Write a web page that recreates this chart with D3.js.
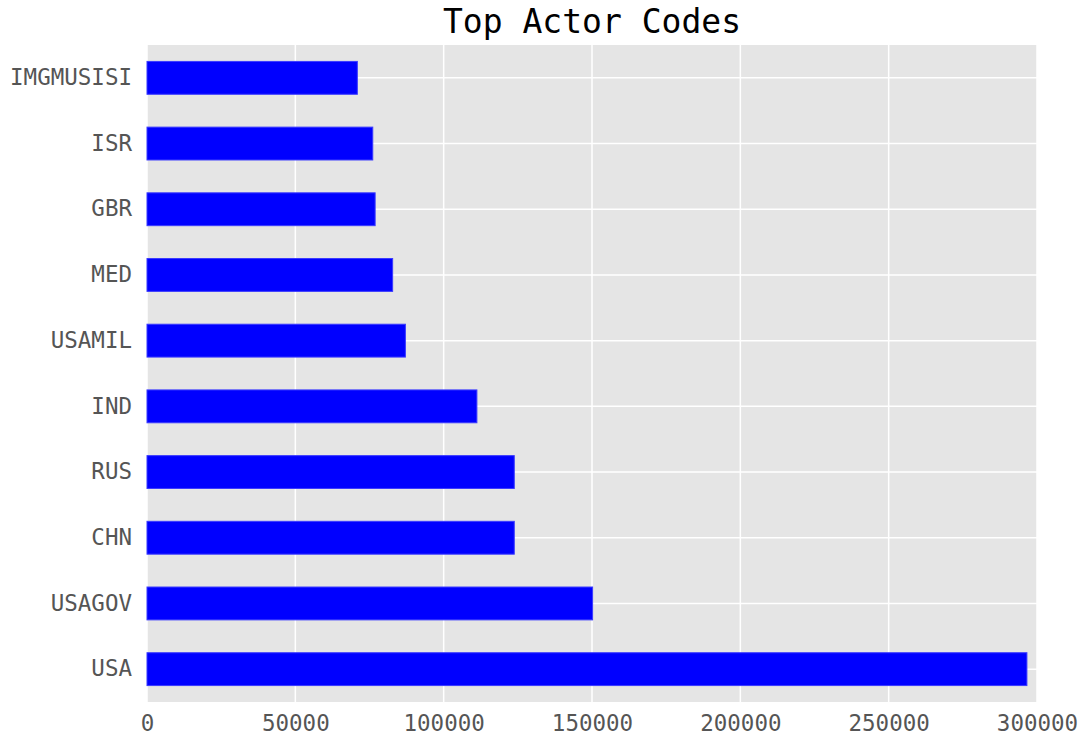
<!DOCTYPE html>
<html>
<head>
<meta charset="utf-8">
<script src="https://cdn.jsdelivr.net/npm/d3@7"></script>
<style>
html,body{margin:0;padding:0;background:#fff;}
svg{display:block;}
</style>
</head>
<body>
<svg id="chart" width="1088" height="740"></svg>
<script>
const categories = ["USA","USAGOV","CHN","RUS","IND","USAMIL","MED","GBR","ISR","IMGMUSISI"];
const values = [296600,150200,123800,123800,111200,87100,82800,76900,76100,70900];
const xTicks = [0,50000,100000,150000,200000,250000,300000];
const title = "Top Actor Codes";

const svg = d3.select("#chart");
const margin = {left:147, right:1088-1037, top:45, bottom:740-702};
const W = 1088, H = 740;
const font = "'DejaVu Sans Mono', monospace";

const x = d3.scaleLinear().domain([0,300000]).range([margin.left, W-margin.right]);
const y = d3.scaleBand().domain(categories).range([H-margin.bottom, margin.top]).paddingInner(0.5).paddingOuter(0.25);

svg.append("rect").attr("x",margin.left).attr("y",margin.top)
  .attr("width",x(300000)-x(0)).attr("height",H-margin.bottom-margin.top)
  .attr("fill","#e5e5e5");

// grid
svg.append("g").selectAll("line.v").data(xTicks).join("line")
  .attr("x1",d=>x(d)).attr("x2",d=>x(d))
  .attr("y1",margin.top).attr("y2",H-margin.bottom)
  .attr("stroke","#fff").attr("stroke-width",1.5);
svg.append("g").selectAll("line.h").data(categories).join("line")
  .attr("x1",margin.left).attr("x2",W-margin.right)
  .attr("y1",d=>y(d)+y.bandwidth()/2).attr("y2",d=>y(d)+y.bandwidth()/2)
  .attr("stroke","#fff").attr("stroke-width",1.5);

// bars
svg.append("g").selectAll("rect").data(categories).join("rect")
  .attr("x",x(0))
  .attr("y",d=>y(d))
  .attr("width",(d,i)=>x(values[i])-x(0))
  .attr("height",y.bandwidth())
  .attr("fill","#0000ff")
  .attr("stroke","#3a3aff").attr("stroke-width",1);

// axes
const xAxis = d3.axisBottom(x).tickValues(xTicks).tickFormat(d3.format("d")).tickSize(0).tickPadding(13);
const gx = svg.append("g").attr("transform",`translate(0,${H-margin.bottom})`).call(xAxis);
gx.select(".domain").remove();
gx.selectAll("text").attr("font-family",font).attr("font-size",22.5).attr("fill","#555");

const yAxis = d3.axisLeft(y).tickSize(0).tickPadding(15);
const gy = svg.append("g").attr("transform",`translate(${margin.left},0)`).call(yAxis);
gy.select(".domain").remove();
gy.selectAll("text").attr("font-family",font).attr("font-size",22.5).attr("fill","#555");

svg.append("text").attr("x",(x(0)+x(300000))/2).attr("y",33)
  .attr("text-anchor","middle").attr("font-family",font).attr("font-size",33)
  .attr("fill","#000").text(title);
</script>
</body>
</html>
